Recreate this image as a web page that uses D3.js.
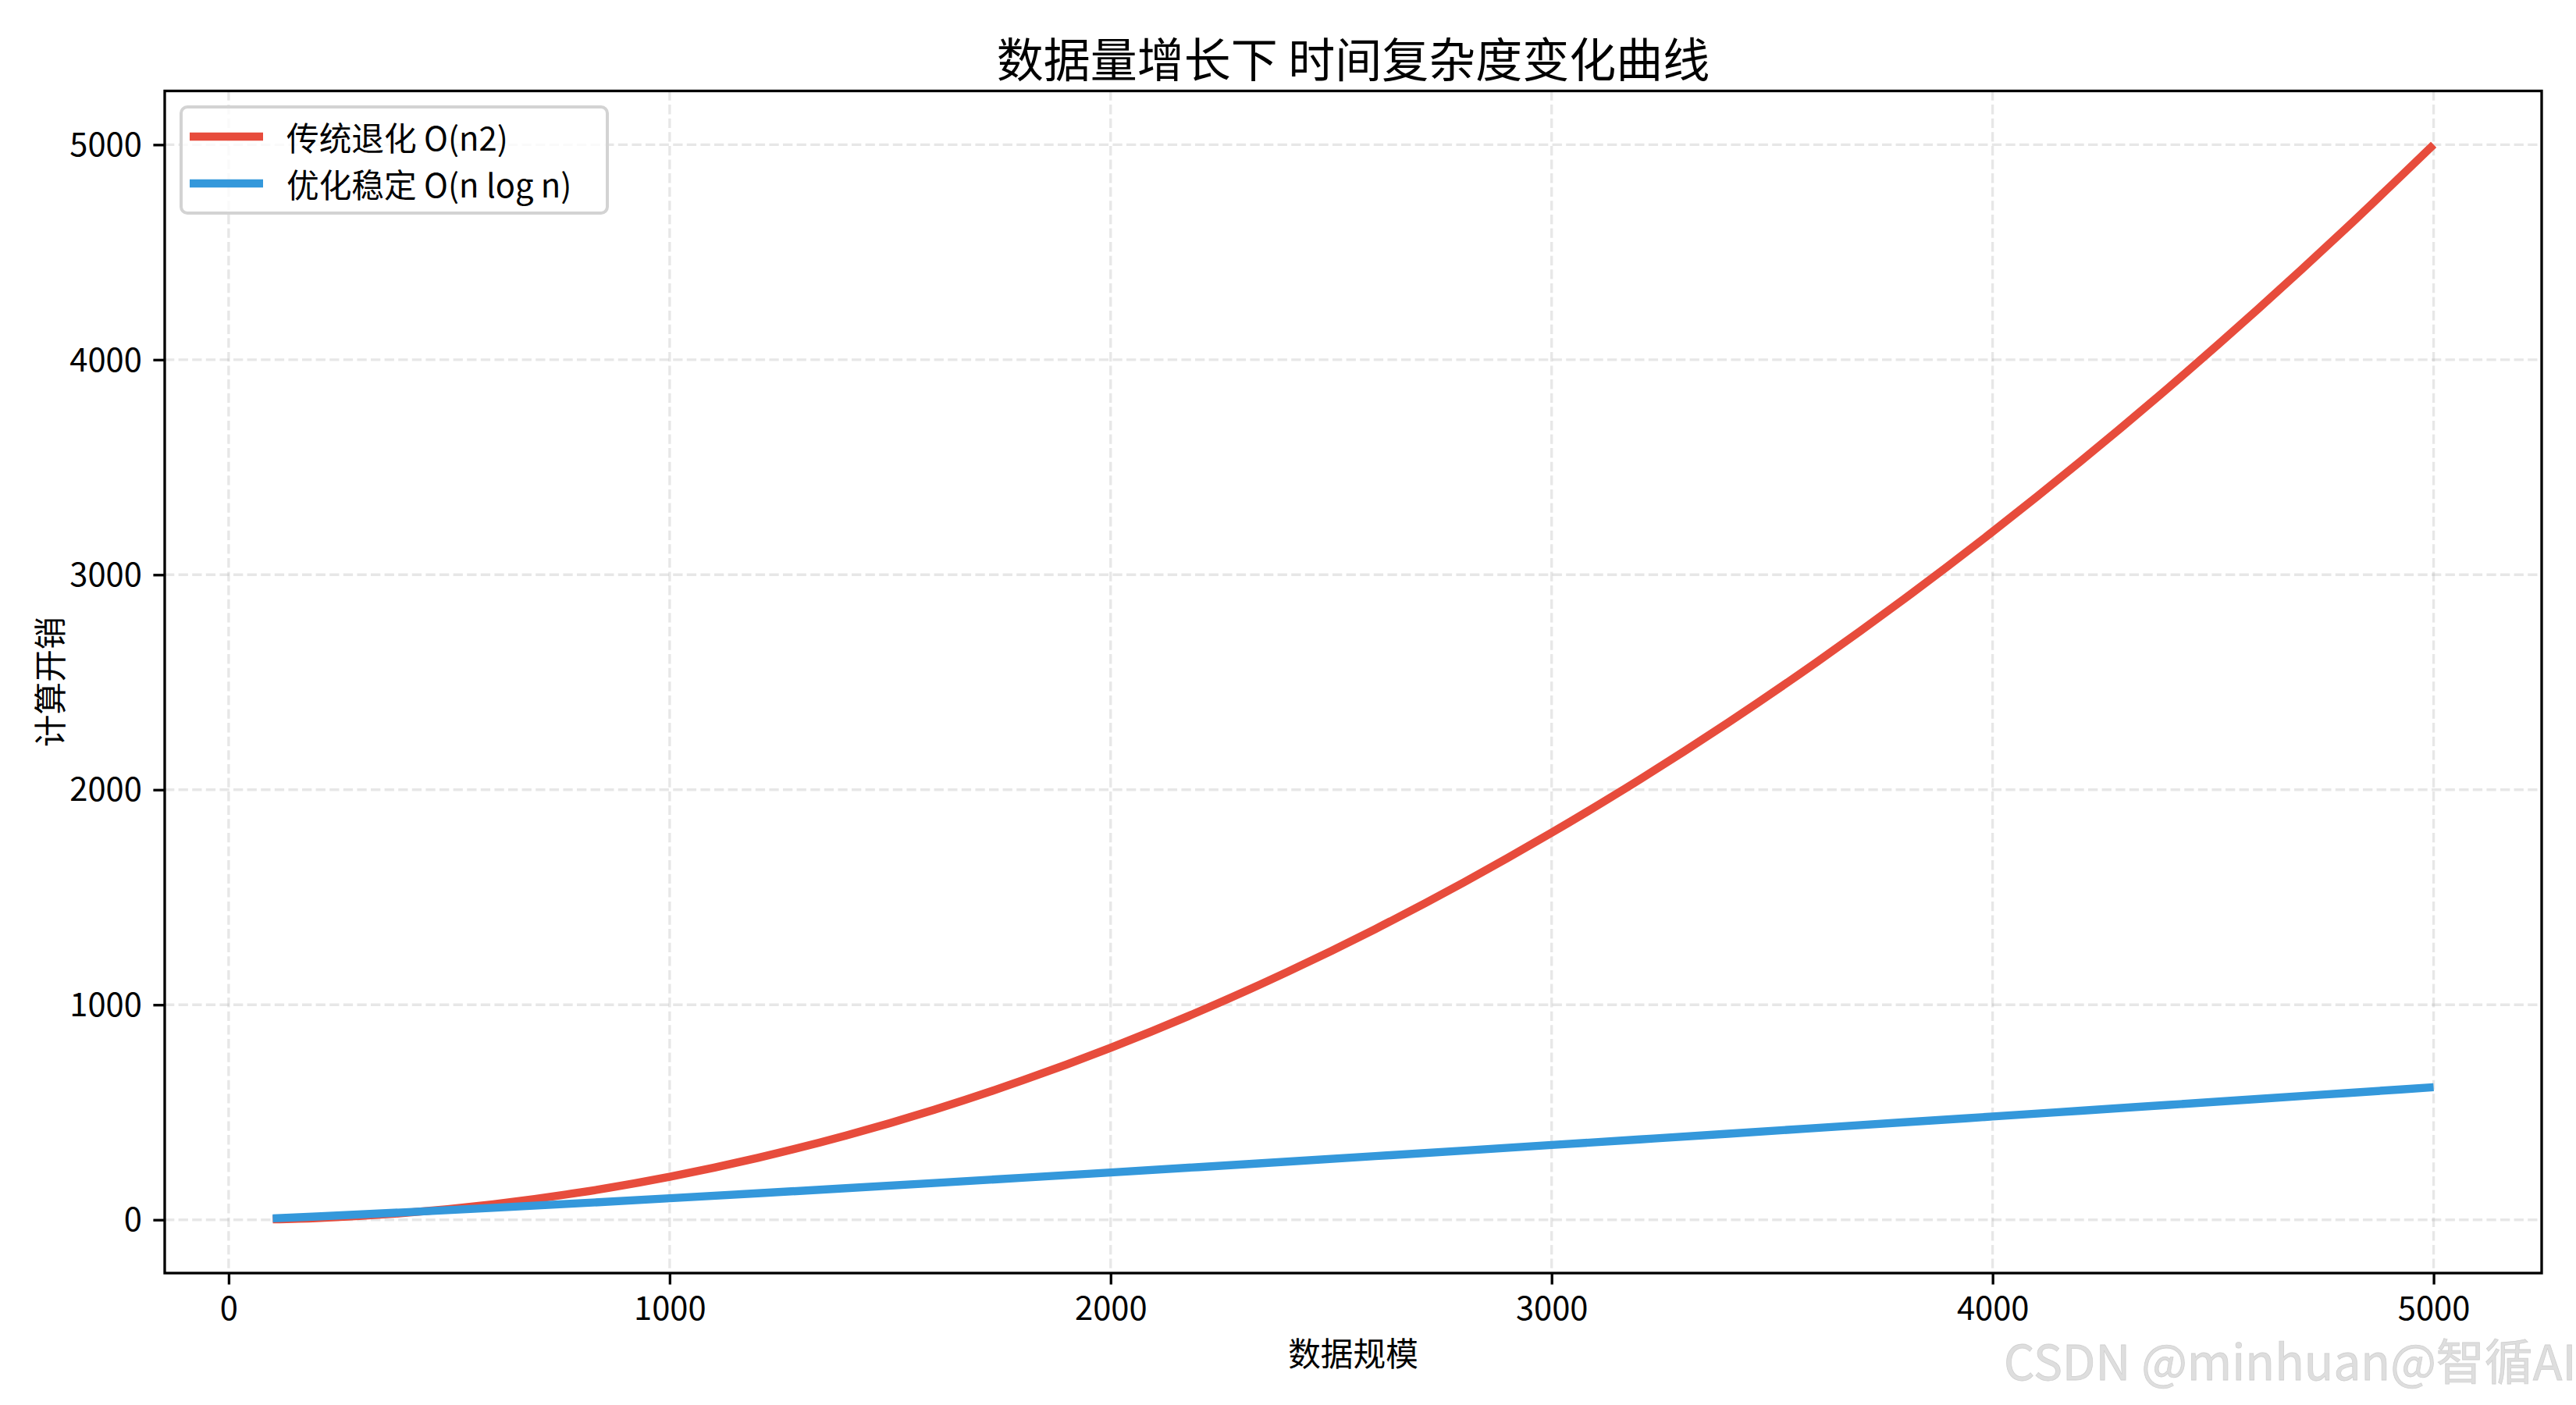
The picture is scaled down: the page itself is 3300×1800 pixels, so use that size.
<!DOCTYPE html>
<html>
<head>
<meta charset="utf-8">
<script src="https://cdn.jsdelivr.net/npm/d3@7"></script>
<style>
  html, body { margin: 0; padding: 0; background: #ffffff; }
  svg { display: block; }
  text { font-family: "Noto Sans CJK SC", "Noto Sans", sans-serif; }
</style>
</head>
<body>
<script>
// ---- data ----
const sizes = [100, 200, 400, 600, 800, 1000, 1200, 1400, 1600, 1800, 2000, 2200, 2400, 2600, 2800,
               3000, 3200, 3400, 3600, 3800, 4000, 4200, 4400, 4600, 4800, 5000];
const costTraditional = [2, 8, 32, 72, 128, 200, 288, 392, 512, 648, 800, 968, 1152, 1352, 1568,
                         1800, 2048, 2312, 2592, 2888, 3200, 3528, 3872, 4232, 4608, 5000];
const costOptimized = [6.7, 15.3, 34.7, 55.6, 77.4, 100, 123.2, 146.8, 170.9, 195.3, 220.1, 245.1, 270.4, 296.0, 321.7,
                       347.7, 373.9, 400.2, 426.8, 453.4, 480.3, 507.3, 534.4, 561.6, 589.0, 616.5];
const seriesNames = ["传统退化 O(n2)", "优化稳定 O(n log n)"];
const seriesColors = ["#e74c3c", "#3498db"];
const xTicks = [0, 1000, 2000, 3000, 4000, 5000];
const yTicks = [0, 1000, 2000, 3000, 4000, 5000];
const titleText = "数据量增长下 时间复杂度变化曲线";
const xLabelText = "数据规模";
const yLabelText = "计算开销";
const watermarkText = "CSDN @minhuan@智循AI";

// ---- layout ----
const W = 3300, H = 1800;
const plot = { left: 211, right: 3256, top: 116.5, bottom: 1631 };
const tickFont = 41.7;

const svg = d3.select("body").append("svg").attr("width", W).attr("height", H);
svg.append("rect").attr("width", W).attr("height", H).attr("fill", "#ffffff");

// matplotlib-like 5% margins
const xMin = d3.min(sizes), xMax = d3.max(sizes);
const allY = costTraditional.concat(costOptimized);
const yMin = d3.min(allY), yMax = d3.max(allY);
const xPad = (xMax - xMin) * 0.05, yPad = (yMax - yMin) * 0.05;

const x = d3.scaleLinear().domain([xMin - xPad, xMax + xPad]).range([plot.left, plot.right]);
const y = d3.scaleLinear().domain([yMin - yPad, yMax + yPad]).range([plot.bottom, plot.top]);

// grid
const grid = svg.append("g");
grid.selectAll("line.gx").data(xTicks).join("line")
  .attr("x1", d => x(d)).attr("x2", d => x(d))
  .attr("y1", plot.top).attr("y2", plot.bottom)
  .attr("stroke", "#b0b0b0").attr("stroke-opacity", 0.3)
  .attr("stroke-width", 3.33).attr("stroke-dasharray", "12.3,5.3");
grid.selectAll("line.gy").data(yTicks).join("line")
  .attr("y1", d => y(d)).attr("y2", d => y(d))
  .attr("x1", plot.left).attr("x2", plot.right)
  .attr("stroke", "#b0b0b0").attr("stroke-opacity", 0.3)
  .attr("stroke-width", 3.33).attr("stroke-dasharray", "12.3,5.3");

// lines
svg.append("clipPath").attr("id", "clip").append("rect")
  .attr("x", plot.left).attr("y", plot.top)
  .attr("width", plot.right - plot.left).attr("height", plot.bottom - plot.top);

const line = d3.line().x(d => x(d[0])).y(d => y(d[1])).curve(d3.curveMonotoneX);
const series = [costTraditional, costOptimized];
series.forEach((vals, i) => {
  svg.append("path")
    .datum(sizes.map((s, j) => [s, vals[j]]))
    .attr("d", line)
    .attr("fill", "none")
    .attr("stroke", seriesColors[i])
    .attr("stroke-width", 10.4)
    .attr("stroke-linecap", "butt")
    .attr("stroke-linejoin", "round")
    .attr("clip-path", "url(#clip)");
});

// axes
const xAxis = d3.axisBottom(x).tickValues(xTicks).tickSize(14.6).tickPadding(14.6).tickFormat(d3.format("d"));
const yAxis = d3.axisLeft(y).tickValues(yTicks).tickSize(14.6).tickPadding(14.6).tickFormat(d3.format("d"));

const gx = svg.append("g").attr("transform", `translate(0,${plot.bottom})`).call(xAxis);
const gy = svg.append("g").attr("transform", `translate(${plot.left},0)`).call(yAxis);
[gx, gy].forEach(g => {
  g.select(".domain").remove();
  g.selectAll(".tick line").attr("stroke", "#000").attr("stroke-width", 3.33);
  g.selectAll(".tick text").attr("fill", "#000").attr("font-size", tickFont)
    .attr("font-family", '"Noto Sans CJK SC", "Noto Sans", sans-serif');
});
gx.selectAll(".tick text").attr("dy", "0.74em");
gy.selectAll(".tick text").attr("dy", "0.34em");

// spines
svg.append("rect")
  .attr("x", plot.left).attr("y", plot.top)
  .attr("width", plot.right - plot.left).attr("height", plot.bottom - plot.top)
  .attr("fill", "none").attr("stroke", "#000").attr("stroke-width", 3.33);

// title & labels
svg.append("text").attr("x", (plot.left + plot.right) / 2).attr("y", 72)
  .attr("text-anchor", "middle").attr("dominant-baseline", "central")
  .attr("font-size", 60).attr("fill", "#000").text(titleText);

svg.append("text").attr("x", (plot.left + plot.right) / 2).attr("y", 1732)
  .attr("text-anchor", "middle").attr("dominant-baseline", "central")
  .attr("font-size", tickFont).attr("fill", "#000").text(xLabelText);

svg.append("text")
  .attr("transform", `translate(62,${(plot.top + plot.bottom) / 2}) rotate(-90)`)
  .attr("text-anchor", "middle").attr("dominant-baseline", "central")
  .attr("font-size", tickFont).attr("fill", "#000").text(yLabelText);

// legend
const lg = svg.append("g");
lg.append("rect").attr("x", 232).attr("y", 137).attr("width", 546).attr("height", 136)
  .attr("rx", 8).attr("ry", 8)
  .attr("fill", "#ffffff").attr("fill-opacity", 0.8)
  .attr("stroke", "#d3d3d3").attr("stroke-width", 4);
const legendRows = [175, 235];
seriesNames.forEach((name, i) => {
  lg.append("line").attr("x1", 243).attr("x2", 337)
    .attr("y1", legendRows[i]).attr("y2", legendRows[i])
    .attr("stroke", seriesColors[i]).attr("stroke-width", 10.4);
  lg.append("text").attr("x", 367).attr("y", legendRows[i])
    .attr("dominant-baseline", "central")
    .attr("font-size", tickFont).attr("fill", "#000").text(name);
});

// watermark
svg.append("text").attr("x", 2567).attr("y", 1768)
  .attr("font-size", 62).attr("fill", "#dedede")
  .attr("stroke", "#d0d0d0").attr("stroke-width", 0.8)
  .attr("font-family", '"Liberation Sans", "Noto Sans CJK SC", sans-serif')
  .text(watermarkText);
</script>
</body>
</html>
